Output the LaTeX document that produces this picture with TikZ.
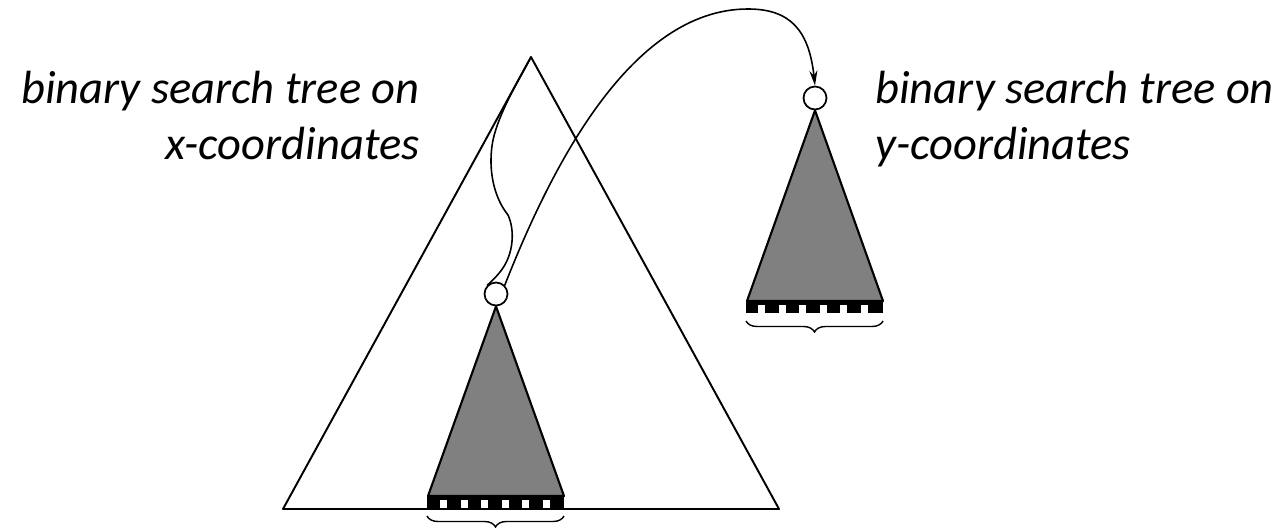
\documentclass[tikz,border=0pt]{standalone}
\usepackage{fontspec}
\setmainfont{Carlito}
\usetikzlibrary{arrows.meta,decorations.pathreplacing}

\begin{document}
\begin{tikzpicture}[x=0.02cm,y=-0.02cm,>={Stealth[length=3mm,width=1.6mm]},
    tree node/.style={circle,draw,fill=white,line width=1pt,inner sep=0pt,minimum size=0.46cm},
    subtree/.style={draw,fill=black!50,line width=1.2pt,line join=round},
    range brace/.style={decorate,decoration={brace,mirror,amplitude=0.22cm},line width=0.8pt},
    caption/.style={font=\fontsize{26.5}{32.4}\selectfont\itshape,inner sep=0pt}]
  \useasboundingbox (0,0) rectangle (1284,530);

  % main tree on x
  \coordinate (root) at (531,57);
  \draw[line width=1.1pt,line join=round] (root) -- (283,509) -- (779,509) -- cycle;

  % associated structure inside
  \node[tree node] (xnode) at (496,294) {};
  \draw[subtree] (xnode.south) -- (428,496) -- (564,496) -- cycle;
  \fill (427,495) rectangle (564,508);
  \foreach \i in {0,...,5}
    \fill[white] ({440+20.6*\i},500) rectangle +(7,8);
  \draw[range brace] (427,516) -- (564,516);

  % tree on y
  \node[tree node] (ynode) at (815,98) {};
  \draw[subtree] (ynode.south) -- (747,301) -- (883,301) -- cycle;
  \fill (746,300) rectangle (883,313);
  \foreach \i in {0,...,5}
    \fill[white] ({758+20.6*\i},305) rectangle +(7,8);
  \draw[range brace] (746,321) -- (883,321);

  % search path and pointer
  \draw[line width=0.9pt] (root) .. controls (517,83) and (499,113) .. (493,140)
    .. controls (488,165) and (492,195) .. (508,215)
    .. controls (515,230) and (514,255) .. (500,272)
    .. controls (496,277) and (493,280) .. (xnode.north west);
  \draw[->,line width=0.9pt] (xnode.north east) .. controls (550,170) and (630,9) .. (748,9)
    .. controls (790,9) and (809,30) .. (ynode.north);

  \node[caption,anchor=base east,align=right] (xlabel) at (420,160) {binary search tree on\\x-coordinates};
  \node[caption,anchor=base west,align=left] (ylabel) at (875,160) {binary search tree on\\y-coordinates};
\end{tikzpicture}
\end{document}
